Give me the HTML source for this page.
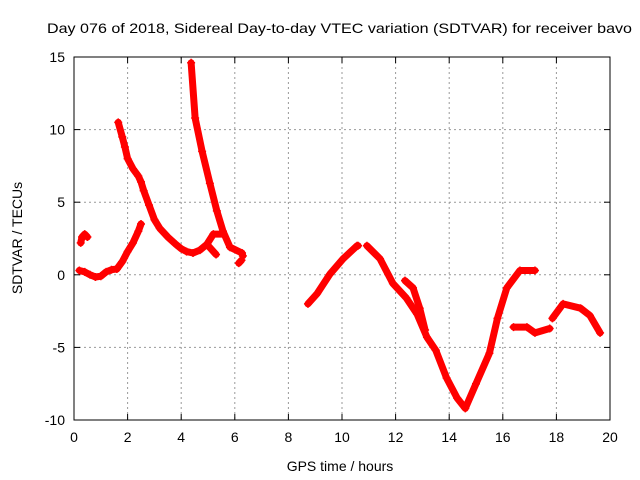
<!DOCTYPE html>
<html><head><meta charset="utf-8"><style>
body{margin:0;background:#fff}
svg{display:block;font-family:"Liberation Sans",sans-serif}
</style></head><body>
<svg id="chart" width="640" height="480" viewBox="0 0 640 480" xmlns="http://www.w3.org/2000/svg">
<rect width="640" height="480" fill="#fff"/>
<text x="47" y="33" font-size="14" textLength="585" lengthAdjust="spacingAndGlyphs">Day 076 of 2018, Sidereal Day-to-day VTEC variation (SDTVAR) for receiver bavo</text>
<g id="grid"></g>
<g id="ticks"></g>
<g id="series"></g>
<rect x="74" y="57" width="536" height="363" fill="none" stroke="#000" stroke-width="1"/>
<text x="340" y="471" font-size="14" text-anchor="middle">GPS time / hours</text>
<text transform="translate(22,238) rotate(-90)" font-size="14" text-anchor="middle">SDTVAR / TECUs</text>
</svg>
<script>
const xTicks=[0,2,4,6,8,10,12,14,16,18,20];
const yTicks=[15,10,5,0,-5,-10];
const s1x=[0.25,0.3,0.4,0.5];
const s1y=[2.2,2.6,2.8,2.6];
const s2x=[0.2,0.4,0.6,0.8,1.0,1.2,1.4,1.6,1.8,2.0,2.2,2.4,2.5];
const s2y=[0.3,0.2,0,-0.15,-0.1,0.2,0.35,0.4,0.9,1.6,2.2,3.0,3.5];
const s3x=[1.65,1.8,1.9,2.0,2.2,2.4,2.5,2.6,2.8,3.0,3.2,3.5,3.8,4.0,4.2,4.44,4.7,4.96,5.2,5.56];
const s3y=[10.5,9.5,8.8,8.0,7.3,6.8,6.4,5.8,4.8,3.8,3.2,2.6,2.1,1.8,1.6,1.5,1.7,2.1,2.8,2.8];
const s3bx=[4.96,5.3];
const s3by=[2.1,1.4];
const s4x=[4.37,4.52,4.78,5.07,5.33,5.56,5.82,6.27,6.3];
const s4y=[14.6,10.8,8.5,6.3,4.4,3.0,1.9,1.5,1.3];
const s4bx=[6.15,6.25];
const s4by=[0.8,1.0];
const s5x=[8.73,9.07,9.55,10.04,10.56,10.6];
const s5y=[-2.0,-1.3,0.05,1.1,2.0,2.0];
const s6x=[10.93,11.42,11.9,12.4,12.8,13.17,13.5,13.9,14.3,14.6,15.0,15.5,15.8,16.15,16.64,17.2];
const s6y=[2.0,1.1,-0.6,-1.6,-2.7,-4.3,-5.2,-7.1,-8.5,-9.2,-7.5,-5.4,-3.0,-0.9,0.3,0.3];
const s7x=[12.35,12.65,12.9,13.1];
const s7y=[-0.4,-0.9,-2.3,-3.8];
const s8x=[16.4,16.9,17.2,17.75];
const s8y=[-3.6,-3.6,-4.0,-3.7];
const s9x=[17.85,18.25,18.9,19.25,19.63];
const s9y=[-3.0,-2.0,-2.3,-2.8,-4.0];
const allSeries=[[s1x,s1y],[s2x,s2y],[s3x,s3y],[s3bx,s3by],[s4x,s4y],[s4bx,s4by],[s5x,s5y],[s6x,s6y],[s7x,s7y],[s8x,s8y],[s9x,s9y]];

const X0=74,X1=610,Y0=420,Y1=57;
function sx(v){return X0+(v-0)/(20-0)*(X1-X0);}
function sy(v){return Y0-(v+10)/(25)*(Y0-Y1);}
const NS="http://www.w3.org/2000/svg";
function mk(tag,attrs,parent){const e=document.createElementNS(NS,tag);for(const k in attrs)e.setAttribute(k,attrs[k]);parent.appendChild(e);return e;}
const grid=document.getElementById('grid'),ticks=document.getElementById('ticks'),series=document.getElementById('series');
xTicks.forEach(t=>{
  const x=sx(t);
  if(t>0&&t<20){const g=mk('line',{x1:x,x2:x,y1:Y1,y2:Y0,stroke:'#999','stroke-dasharray':'2,3'},grid);
  
  }
  mk('line',{x1:x,x2:x,y1:Y0,y2:Y0-6,stroke:'#000'},ticks);
  mk('line',{x1:x,x2:x,y1:Y1,y2:Y1+6,stroke:'#000'},ticks);
  const l=mk('text',{x:x,y:Y0+22,'font-size':14,'text-anchor':'middle'},ticks);
  l.textContent=t;
  
  
});
yTicks.forEach(t=>{
  const y=sy(t);
  if(t>-10&&t<15){const g=mk('line',{x1:X0,x2:X1,y1:y,y2:y,stroke:'#999','stroke-dasharray':'2,3'},grid);
  
  }
  mk('line',{x1:X0,x2:X0+6,y1:y,y2:y,stroke:'#000'},ticks);
  mk('line',{x1:X1,x2:X1-6,y1:y,y2:y,stroke:'#000'},ticks);
  const l=mk('text',{x:X0-9,y:y+5,'font-size':14,'text-anchor':'end'},ticks);
  l.textContent=t;
  
  
});
allSeries.forEach(([xs,ys])=>{
  const pts=xs.map((x,i)=>sx(x)+','+sy(ys[i])).join(' ');
  const pl=mk('polyline',{points:pts,fill:'none',stroke:'#f00','stroke-width':7,'stroke-linejoin':'round','stroke-linecap':'round'},series);
  
  
  xs.forEach((x,i)=>{
    const cx=sx(x),cy=sy(ys[i]);
    const p=mk('path',{d:`M${cx-4},${cy}H${cx+4}M${cx},${cy-4}V${cy+4}`,stroke:'#f00','stroke-width':1.5},series);
    
    
  });
});
</script>
</body></html>
